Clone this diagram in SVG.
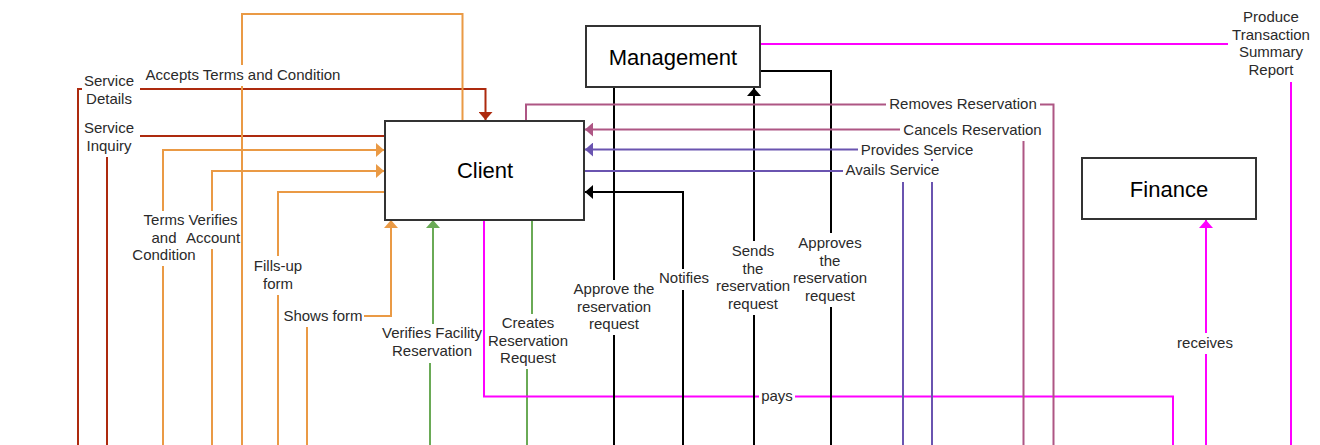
<svg xmlns="http://www.w3.org/2000/svg" width="1320" height="445" viewBox="0 0 1320 445">
<style>
.e{fill:none;stroke-width:2;stroke-linejoin:miter}
.red{stroke:#ad2a0e}.org{stroke:#ea9a45}.grn{stroke:#6aaa56}.mag{stroke:#ff00ff}.blk{stroke:#000}.mau{stroke:#ae5684}.pur{stroke:#6a54b0}
.lb{fill:#fff}
.t{font-family:"Liberation Sans",Arial,sans-serif;font-size:15px;fill:#2a2a2a;text-anchor:middle}
.node rect{fill:#fff;stroke:#333;stroke-width:2}
.node text{font-family:"Liberation Sans",Arial,sans-serif;font-size:22px;fill:#000;text-anchor:middle}
</style>
<defs>
<marker id="aRed" viewBox="0 0 8 14" refX="8" refY="7" markerWidth="8" markerHeight="14" markerUnits="userSpaceOnUse" orient="auto"><path d="M0,0L8,7L0,14z" fill="#ad2a0e"/></marker>
<marker id="aOrg" viewBox="0 0 8 14" refX="8" refY="7" markerWidth="8" markerHeight="14" markerUnits="userSpaceOnUse" orient="auto"><path d="M0,0L8,7L0,14z" fill="#ea9a45"/></marker>
<marker id="aGrn" viewBox="0 0 8 14" refX="8" refY="7" markerWidth="8" markerHeight="14" markerUnits="userSpaceOnUse" orient="auto"><path d="M0,0L8,7L0,14z" fill="#6aaa56"/></marker>
<marker id="aMag" viewBox="0 0 8 14" refX="8" refY="7" markerWidth="8" markerHeight="14" markerUnits="userSpaceOnUse" orient="auto"><path d="M0,0L8,7L0,14z" fill="#ff00ff"/></marker>
<marker id="aBlk" viewBox="0 0 8 14" refX="8" refY="7" markerWidth="8" markerHeight="14" markerUnits="userSpaceOnUse" orient="auto"><path d="M0,0L8,7L0,14z" fill="#000"/></marker>
<marker id="aMau" viewBox="0 0 8 14" refX="8" refY="7" markerWidth="8" markerHeight="14" markerUnits="userSpaceOnUse" orient="auto"><path d="M0,0L8,7L0,14z" fill="#ae5684"/></marker>
<marker id="aPur" viewBox="0 0 8 14" refX="8" refY="7" markerWidth="8" markerHeight="14" markerUnits="userSpaceOnUse" orient="auto"><path d="M0,0L8,7L0,14z" fill="#6a54b0"/></marker>
</defs>
<rect width="1320" height="445" fill="#fff"/>
<g id="connectors">
<path class="e red" d="M78,445V89H485.5V120" marker-end="url(#aRed)"/>
<path class="e red" d="M107,445V136H384"/>
<path class="e org" d="M242,445V14H462.5V120"/>
<path class="e org" d="M163,445V150H384" marker-end="url(#aOrg)"/>
<path class="e org" d="M212,445V171H384" marker-end="url(#aOrg)"/>
<path class="e org" d="M384,192H278V445"/>
<path class="e org" d="M307,445V316H391V220" marker-end="url(#aOrg)"/>
<path class="e grn" d="M430,445V345H433V220" marker-end="url(#aGrn)"/>
<path class="e grn" d="M532,220V340H527V445"/>
<path class="e mag" d="M484,220V396.5H1173V445"/>
<path class="e mag" d="M761,44H1291V445"/>
<path class="e mag" d="M1206,445V220" marker-end="url(#aMag)"/>
<path class="e blk" d="M614,88V445"/>
<path class="e blk" d="M683,445V192H585" marker-end="url(#aBlk)"/>
<path class="e blk" d="M754,445V88" marker-end="url(#aBlk)"/>
<path class="e blk" d="M761,71H831V445"/>
<path class="e mau" d="M526,120V104.5H1053.5V445"/>
<path class="e mau" d="M1023.5,445V129.5H585" marker-end="url(#aMau)"/>
<path class="e pur" d="M932,445V149.5H585" marker-end="url(#aPur)"/>
<path class="e pur" d="M585,171H903V445"/>
<g id="labels">
<rect class="lb" x="142" y="65" width="202" height="21"/>
<text class="t" x="243" y="80">Accepts Terms and Condition</text>
<rect class="lb" x="82" y="72" width="58" height="34"/>
<text class="t" x="109" y="86"><tspan x="109">Service</tspan><tspan x="109" dy="17.5">Details</tspan></text>
<rect class="lb" x="82" y="119" width="58" height="38"/>
<text class="t" x="109" y="133"><tspan x="109">Service</tspan><tspan x="109" dy="17.5">Inquiry</tspan></text>
<rect class="lb" x="130" y="211" width="56" height="55"/>
<rect class="lb" x="130" y="246" width="68" height="20"/>
<text class="t" x="164" y="225"><tspan x="164">Terms</tspan><tspan x="164" dy="17.5">and</tspan><tspan x="164" dy="17.5">Condition</tspan></text>
<rect class="lb" x="186" y="211" width="55" height="38"/>
<text class="t" x="213" y="225"><tspan x="213">Verifies</tspan><tspan x="213" dy="17.5">Account</tspan></text>
<rect class="lb" x="253" y="256" width="50" height="39"/>
<text class="t" x="278" y="271"><tspan x="278">Fills-up</tspan><tspan x="278" dy="17.5">form</tspan></text>
<rect class="lb" x="282" y="306" width="82" height="21"/>
<text class="t" x="323" y="321">Shows form</text>
<rect class="lb" x="381" y="324" width="102" height="39"/>
<text class="t" x="432" y="338"><tspan x="432">Verifies Facility</tspan><tspan x="432" dy="17.5">Reservation</tspan></text>
<rect class="lb" x="487" y="314" width="82" height="55"/>
<text class="t" x="528" y="328"><tspan x="528">Creates</tspan><tspan x="528" dy="17.5">Reservation</tspan><tspan x="528" dy="17.5">Request</tspan></text>
<rect class="lb" x="759" y="387" width="36" height="19"/>
<text class="t" x="777" y="401">pays</text>
<rect class="lb" x="572" y="280" width="84" height="55"/>
<text class="t" x="614" y="294"><tspan x="614">Approve the</tspan><tspan x="614" dy="17.5">reservation</tspan><tspan x="614" dy="17.5">request</tspan></text>
<rect class="lb" x="658" y="269" width="52" height="21"/>
<text class="t" x="684" y="283">Notifies</text>
<rect class="lb" x="714" y="241" width="78" height="74"/>
<text class="t" x="753" y="256"><tspan x="753">Sends</tspan><tspan x="753" dy="17.5">the</tspan><tspan x="753" dy="17.5">reservation</tspan><tspan x="753" dy="17.5">request</tspan></text>
<rect class="lb" x="792" y="233" width="76" height="74"/>
<text class="t" x="830" y="248"><tspan x="830">Approves</tspan><tspan x="830" dy="17.5">the</tspan><tspan x="830" dy="17.5">reservation</tspan><tspan x="830" dy="17.5">request</tspan></text>
<rect class="lb" x="886" y="95" width="154" height="19"/>
<text class="t" x="963" y="109">Removes Reservation</text>
<rect class="lb" x="900" y="120" width="145" height="21"/>
<text class="t" x="972.5" y="135">Cancels Reservation</text>
<rect class="lb" x="858" y="141" width="118" height="18"/>
<text class="t" x="917" y="155">Provides Service</text>
<rect class="lb" x="843" y="161" width="99" height="21"/>
<text class="t" x="892.5" y="175">Avails Service</text>
<rect class="lb" x="1175" y="333" width="61" height="21"/>
<text class="t" x="1205" y="348">receives</text>
<rect class="lb" x="1228" y="8" width="86" height="74"/>
<text class="t" x="1271" y="22"><tspan x="1271">Produce</tspan><tspan x="1271" dy="17.5">Transaction</tspan><tspan x="1271" dy="17.5">Summary</tspan><tspan x="1271" dy="17.5">Report</tspan></text>
</g>
</g>
<g id="node-client" class="node"><rect x="385" y="121" width="199" height="99"/><text x="485" y="178">Client</text></g>
<g id="node-management" class="node"><rect x="586" y="26" width="174" height="61"/><text x="673" y="65">Management</text></g>
<g id="node-finance" class="node"><rect x="1082" y="158" width="174" height="61"/><text x="1169" y="197">Finance</text></g>
</svg>
